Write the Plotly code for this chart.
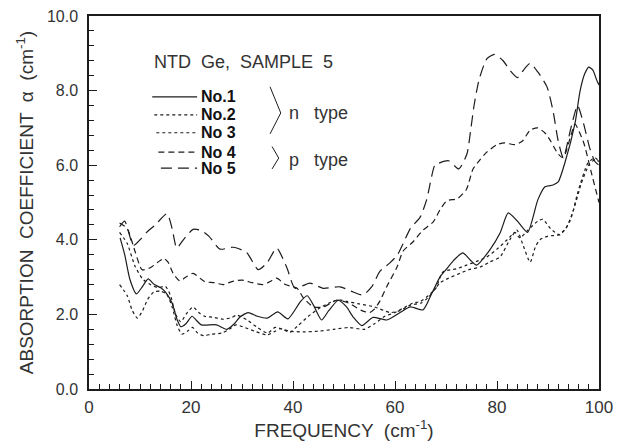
import plotly.graph_objects as go

# ---- data ----
f1 = [6.1, 7, 8, 9.3, 10.5, 11.6, 12.8, 14, 15, 16.3, 17.3, 18, 19, 20.2, 21, 22, 25, 27, 28.5, 29.6,
      31.2, 33, 35, 37, 39, 41.5, 42.8, 44, 45.6, 47, 48.9, 50.5, 51.8, 53.5, 55.7, 58.4, 61, 63, 65.5,
      67, 68.8, 70, 71.5, 73.3, 74.8, 76, 78.6, 80.6, 82.2, 84, 86, 88, 89.4, 91, 92, 93.3, 95.3, 96.3,
      97.2, 98, 98.8, 99.5, 100]
a1 = [4.05, 3.6, 2.95, 2.55, 2.75, 2.95, 2.8, 2.72, 2.6, 2.3, 1.85, 1.67, 1.75, 1.95, 1.85, 1.72, 1.72,
      1.6, 1.75, 1.93, 2.05, 1.95, 1.9, 2.07, 1.88, 2.35, 2.5, 2.25, 1.85, 2.1, 2.38, 2.2, 1.93, 1.7, 1.92,
      1.85, 2.05, 2.2, 2.12, 2.5, 3.0, 3.2, 3.45, 3.65, 3.45, 3.32, 3.73, 4.18, 4.72, 4.5, 4.2, 5.07, 5.42,
      5.47, 5.55, 6.06, 7.13, 8.0, 8.45, 8.63, 8.55, 8.3, 8.15]

f2 = [6, 7.5, 8.5, 9.5, 10.5, 11.5, 12.7, 14, 15.2, 16.3, 17.3, 18.2, 19.3, 20.3, 21.3, 22.5, 24, 26,
      27.5, 28.8, 30.5, 32.5, 34.9, 36.5, 37.5, 39.4, 41, 43, 45, 47, 48.9, 50.5, 53, 56, 59, 61, 63, 65,
      66.5, 68.8, 70.5, 72.7, 74.5, 76.7, 78.5, 80.6, 82.5, 83.9, 85, 86.5, 87.5, 88.4, 90, 92, 93.5, 95,
      96.5, 98, 99.2, 100]
a2 = [2.8, 2.5, 2.1, 1.9, 2.1, 2.4, 2.6, 2.62, 2.55, 2.2, 1.7, 1.47, 1.55, 1.65, 1.5, 1.43, 1.47, 1.5,
      1.6, 1.72, 1.65, 1.55, 1.45, 1.55, 1.62, 1.52, 1.7, 1.95, 2.15, 2.3, 2.39, 2.35, 2.28, 2.2, 2.05,
      2.1, 2.25, 2.3, 2.45, 2.84, 2.97, 3.1, 3.2, 3.27, 3.4, 3.54, 4.0, 4.26, 3.9, 3.4, 3.8, 4.0, 4.1,
      4.13, 4.3, 4.8, 5.5, 6.0, 6.15, 6.1]

f3 = [6, 7.5, 9, 10.5, 12, 13.5, 15, 16, 17, 18, 19, 20.4, 21.5, 22.7, 24.5, 26.3, 28, 29, 31, 33, 35,
      36.5, 38, 39.4, 42, 45, 48, 51, 54, 56, 58, 60, 62, 63.5, 65, 66.5, 68, 69.4, 72, 74, 76, 78, 80,
      82, 83.5, 84.5, 86, 88, 89, 90.5, 92.3, 94.3, 95.9, 97.8, 99.2, 100]
a3 = [4.2, 3.9, 3.3, 2.95, 2.8, 2.72, 2.75, 2.5, 2.0, 1.8, 2.0, 2.2, 2.05, 1.95, 1.92, 1.87, 1.92, 1.98,
      1.85, 1.65, 1.5, 1.65, 1.6, 1.55, 1.53, 1.55, 1.6, 1.65, 1.6, 1.75, 1.95, 2.05, 2.2, 2.3, 2.35, 2.5,
      2.7, 3.14, 3.22, 3.32, 3.42, 3.54, 3.75, 4.0, 4.2, 4.05, 4.25, 4.5, 4.55, 4.3, 4.13, 4.5, 5.3, 6.05,
      6.2, 6.1]

f4 = [6, 7.5, 9, 10.4, 12, 13.5, 14.7, 15.5, 16.5, 17.8, 19, 20.4, 22.7, 24.5, 26.3, 28, 30, 32, 34.1,
      35.5, 36.8, 38.5, 40.8, 42, 44, 46, 48.5, 51, 53.5, 55, 56, 57, 58.4, 60.4, 61.6, 63.5, 65.5, 67.5,
      68.8, 70.2, 72.2, 74, 75.3, 76.7, 78, 80, 81.5, 83.5, 85, 86.5, 88, 89.5, 90.5, 92, 93, 94.5, 95.3,
      97, 98.5, 100]
a4 = [4.45, 4.3, 3.7, 3.2, 3.25, 3.4, 3.5, 3.4, 3.1, 2.9, 3.0, 3.1, 2.88, 2.85, 2.8, 2.88, 2.92, 2.85,
      2.8, 2.88, 2.97, 2.8, 2.7, 2.45, 2.2, 2.2, 2.38, 2.3, 2.1, 2.05, 2.15, 2.35, 2.75, 3.27, 3.7, 3.94,
      4.26, 4.48, 4.8, 5.05, 5.1, 5.35, 5.9, 6.15, 6.35, 6.55, 6.6, 6.55, 6.65, 6.94, 7.0, 6.85, 6.65,
      6.3, 6.2, 6.8, 7.1, 6.6, 5.8, 5.0]

f5 = [6, 7, 8.7, 10, 11.3, 13, 15.3, 16.3, 17.2, 18.5, 20.4, 22, 23.5, 25.7, 28.3, 30.9, 33.2, 35, 36.8,
      38.8, 40.4, 43.3, 45.9, 49.2, 51.8, 53.7, 55.5, 57, 59, 60.5, 61.6, 63, 64.9, 66.2, 67.8, 68.5, 70.5,
      72.5, 74.1, 74.8, 75.5, 76.5, 78, 79.5, 81.2, 82.5, 84, 85.2, 86.5, 88, 89.8, 91, 92, 93, 94.5, 95.8,
      97, 98.2, 99.2, 100]
a5 = [4.35, 4.5, 3.85, 4.0, 4.2, 4.4, 4.7, 4.3, 3.78, 4.0, 4.28, 4.25, 4.1, 3.75, 3.8, 3.66, 3.2, 3.4,
      3.78, 3.25, 2.7, 2.84, 2.7, 2.74, 2.6, 2.52, 2.75, 3.15, 3.38, 3.6, 3.9, 4.3, 4.6, 5.07, 6.0, 6.05,
      6.12, 5.9, 6.3, 6.9, 7.6, 8.3, 8.85, 8.97, 8.8, 8.55, 8.35, 8.55, 8.73, 8.5, 8.1, 7.45, 6.65, 6.2,
      7.0, 7.6, 7.1, 6.45, 6.1, 6.0]

names = ["No.1", "No.2", "No 3", "No 4", "No 5"]
dashes = ["solid", "dot", "3px,3px", "6px,4px", "11px,6px"]

x_ticks = [0, 20, 40, 60, 80, 100]
y_ticks = [0, 2, 4, 6, 8, 10]

# legend key layout (data units): row heights, sample start/end, label start
key_rows = [7.83, 7.35, 6.87, 6.35, 5.92]
key_x0 = [12.4, 12.8, 13.2, 13.6, 14.1]
key_x1 = 21.2
key_label_x = 21.6

ink = "#1c1c1c"
grey = "#333333"
font = "Liberation Sans"

fig = go.Figure()
for fx, ay, nm, ds in zip([f1, f2, f3, f4, f5], [a1, a2, a3, a4, a5], names, dashes):
    fig.add_trace(go.Scatter(x=fx, y=ay, mode="lines", name=nm, showlegend=False,
                             line=dict(color=ink, width=1.2, dash=ds, shape="spline", smoothing=0.6)))

# legend key drawn as small line samples with bold labels
for yk, x0, nm, ds in zip(key_rows, key_x0, names, dashes):
    fig.add_trace(go.Scatter(x=[x0, key_x1], y=[yk, yk], mode="lines", showlegend=False, hoverinfo="skip",
                             line=dict(color=ink, width=1.2, dash=ds)))
    fig.add_annotation(x=key_label_x, y=yk, xref="x", yref="y", text=f"<b>{nm}</b>", showarrow=False,
                       xanchor="left", yanchor="middle", font=dict(size=16, color="#111111", family=font))

fig.update_layout(
    width=625, height=441,
    margin=dict(l=89, r=26, t=16, b=52),
    paper_bgcolor="white", plot_bgcolor="white",
    font=dict(family=font, color=grey),
    showlegend=False,
)
fig.update_xaxes(range=[0, 100], tickvals=x_ticks, ticktext=[str(v) for v in x_ticks],
                 ticks="inside", ticklen=8, tickwidth=1.2, tickcolor=ink, ticklabelstandoff=2,
                 minor=dict(dtick=2, ticks="inside", ticklen=5, tickwidth=1, tickcolor=ink),
                 showline=True, linecolor=ink, linewidth=1.5, mirror=True, showgrid=False, zeroline=False,
                 automargin=False,
                 tickfont=dict(size=17, color=grey),
                 title=dict(text="FREQUENCY  (cm<sup>-1</sup>)", font=dict(size=19, color=grey), standoff=2))
fig.update_yaxes(range=[0, 10], tickvals=y_ticks, ticktext=[f"{v:.1f}" for v in y_ticks],
                 ticks="inside", ticklen=8, tickwidth=1.2, tickcolor=ink, ticklabelstandoff=6,
                 minor=dict(dtick=0.4, ticks="inside", ticklen=5, tickwidth=1, tickcolor=ink),
                 showline=True, linecolor=ink, linewidth=1.5, mirror=True, showgrid=False, zeroline=False,
                 automargin=False,
                 tickfont=dict(size=16, color=grey),
                 title=dict(text="ABSORPTION  COEFFICIENT  α  (cm<sup>-1</sup>)", font=dict(size=19, color=grey), standoff=8))

fig.add_annotation(x=12.3, y=8.77, xref="x", yref="y", text="NTD  Ge,  SAMPLE  5", showarrow=False,
                   xanchor="left", yanchor="middle", font=dict(size=18, color=grey, family=font))
fig.add_annotation(x=38.9, y=7.4, xref="x", yref="y", text="n   type", showarrow=False,
                   xanchor="left", yanchor="middle", font=dict(size=18, color=grey, family=font))
fig.add_annotation(x=38.9, y=6.14, xref="x", yref="y", text="p   type", showarrow=False,
                   xanchor="left", yanchor="middle", font=dict(size=18, color=grey, family=font))
fig.add_shape(type="path", xref="x", yref="y", path="M 35.5 8.1 L 37.6 7.4 L 35.5 6.84",
              line=dict(color=ink, width=1))
fig.add_shape(type="path", xref="x", yref="y", path="M 35.9 6.5 L 37.2 6.19 L 35.9 5.9",
              line=dict(color=ink, width=1))

fig.write_html("out.html")
